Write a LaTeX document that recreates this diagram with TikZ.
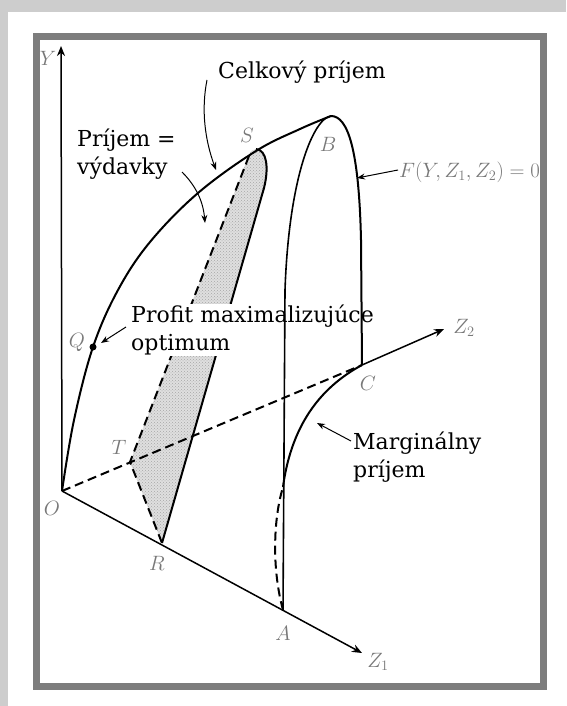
\documentclass[tikz,border=0pt]{standalone}
\usepackage{fontspec}
\newfontfamily\labelfont{DejaVu Serif}
\usetikzlibrary{arrows.meta,patterns}
\definecolor{framegray}{RGB}{125,125,125}
\definecolor{shadowgray}{RGB}{205,205,205}
\definecolor{lettergray}{RGB}{120,120,120}

\begin{document}
\begin{tikzpicture}[x=1pt,y=-1pt,
  curve/.style={line width=2pt},
  hidden/.style={line width=2pt,dash pattern=on 9pt off 5pt},
  axis/.style={line width=1.5pt,-{Stealth[length=10pt,width=8pt]}},
  pointer/.style={line width=1pt,-{Stealth[length=8pt,width=6pt]}},
  caption/.style={font=\labelfont\fontsize{22}{28}\selectfont,align=left,inner sep=1pt},
  letter/.style={text=lettergray,font=\fontsize{20}{20}\selectfont,inner sep=1pt}]
\useasboundingbox (0,0) rectangle (566,706);
% card and frame
\fill[shadowgray] (0,0) rectangle (566,706);
\fill[white] (8,12) rectangle (566,706);
\draw[framegray,line width=7pt] (36,36.5) rectangle (543.5,686);

% points of the surface
\coordinate (O) at (62,491);
\coordinate (A) at (283,610);
\coordinate (R) at (162,543);
\coordinate (T) at (130,462);
\coordinate (C) at (362,365);
\coordinate (S) at (256,149);
\coordinate (B) at (331,116);
\coordinate (Q) at (93,347);
\coordinate (Ytop) at (61,46);
\coordinate (Zoneend) at (362,653);
\coordinate (Ztwoend) at (444,329);

% shaded slice
\path[fill=gray!25] (S) .. controls (267,150) and (269,168) .. (264,188) -- (R) -- (T) -- (249,155) .. controls (251,151) .. (S);
\path[pattern=crosshatch dots,pattern color=gray!70] (S) .. controls (267,150) and (269,168) .. (264,188) -- (R) -- (T) -- (249,155) .. controls (251,151) .. (S);
\draw[curve] (S) .. controls (267,150) and (269,168) .. (264,188) -- (R);
\draw[hidden] (249,156) -- (T) -- (R);

% text over the slice
\node[caption,fill=white,anchor=west] (profit) at (130,330) {Profit maximalizujúce\\optimum};

% axes
\draw[axis] (O) -- (Ytop);
\draw[axis] (O) -- (Zoneend);
\draw[hidden] (O) -- (C);
\draw[axis] (C) -- (Ztwoend);

% total revenue and the ridge
\draw[curve] plot[smooth,tension=0.6] coordinates {(62,491) (74,420) (93,347) (118,290) (150,242) (198,193) (256,151) (300,129) (331,116)};
\draw[curve] (B) .. controls (348,116) and (359,150) .. (361,240) -- (C);
\draw[line width=1.6pt] (B) .. controls (314,118) and (289,175) .. (285,290) -- (A);

% marginal revenue
\draw[hidden] (A) .. controls (272,570) and (273,520) .. (283,487);
\draw[curve] (283,487) .. controls (292,420) and (325,385) .. (C);

\fill (Q) circle (3.5);

% letters
\node[letter] (lY) at (48,58) {$Y$};
\node[letter] (lO) at (52,508) {$O$};
\node[letter] (lQ) at (77,342) {$Q$};
\node[letter] (lS) at (247,135) {$S$};
\node[letter] (lB) at (328,144) {$B$};
\node[letter] (lT) at (119,447) {$T$};
\node[letter] (lR) at (157,563) {$R$};
\node[letter] (lA) at (283,633) {$A$};
\node[letter] (lC) at (368,383) {$C$};
\node[letter] (lZone) at (378,662) {$Z_1$};
\node[letter] (lZtwo) at (464,328) {$Z_2$};
\node[letter,anchor=west] (lF) at (398,172) {$F(Y, Z_1, Z_2) = 0$};

% captions
\node[caption] (total) at (302,72) {Celkový príjem};
\node[caption,anchor=west] (equal) at (76,154) {Príjem =\\výdavky};
\node[caption,anchor=west] (marginal) at (352,457) {Marginálny\\príjem};

% pointers
\coordinate (totaltail) at (207,80);
\coordinate (totaltip) at (216,170);
\coordinate (equaltail) at (182,172);
\coordinate (equaltip) at (205,223);
\coordinate (profittail) at (126,327);
\coordinate (profittip) at (101,343);
\coordinate (margtail) at (351,441);
\coordinate (margtip) at (317,423);
\coordinate (ftail) at (398,170);
\coordinate (ftip) at (357,178);
\draw[pointer] (totaltail) .. controls (201,110) and (205,140) .. (totaltip);
\draw[pointer] (equaltail) .. controls (195,185) and (203,200) .. (equaltip);
\draw[pointer] (profittail) -- (profittip);
\draw[pointer] (margtail) -- (margtip);
\draw[pointer] (ftail) -- (ftip);
\end{tikzpicture}
\end{document}
